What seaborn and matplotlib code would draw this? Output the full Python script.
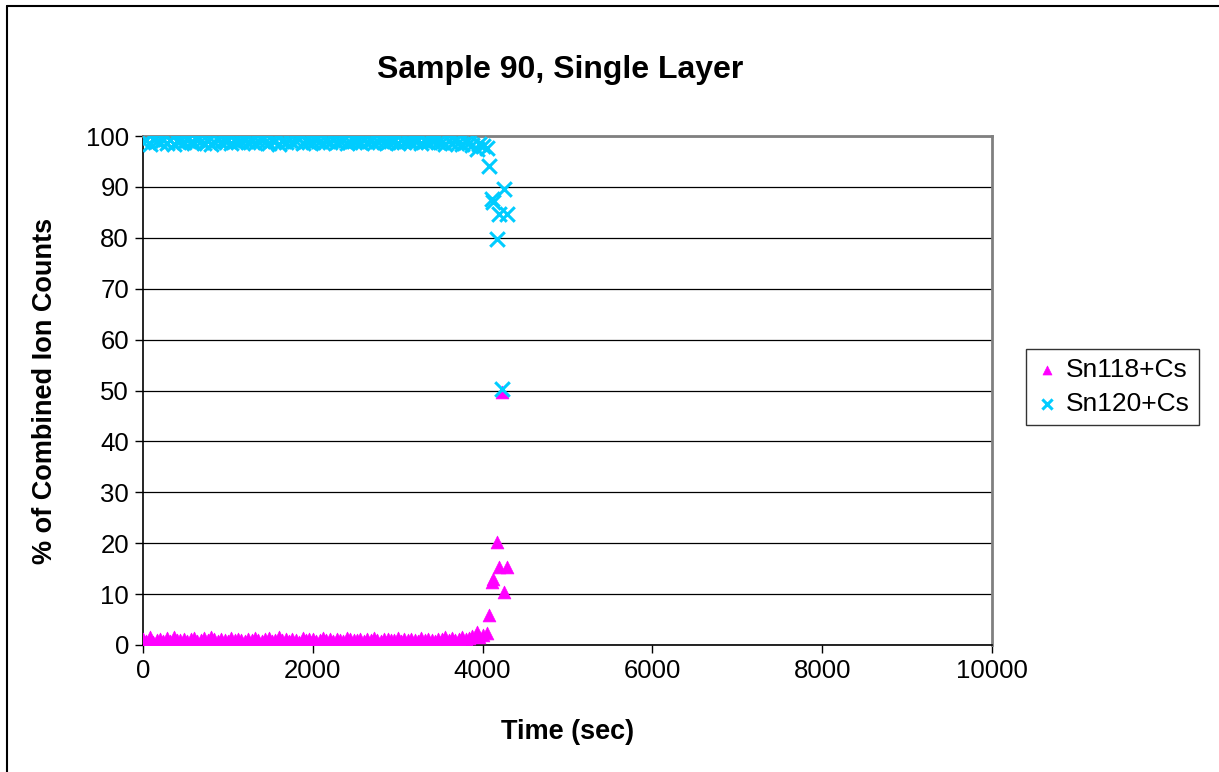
import matplotlib
matplotlib.use("Agg")
import matplotlib.pyplot as plt
from matplotlib.lines import Line2D
import seaborn as sns
import pandas as pd

# ---- data ----
time_base = [0, 40, 80, 120, 160, 200, 240, 280, 320, 360,
             400, 440, 480, 520, 560, 600, 640, 680, 720, 760,
             800, 840, 880, 920, 960, 1000, 1040, 1080, 1120, 1160,
             1200, 1240, 1280, 1320, 1360, 1400, 1440, 1480, 1520, 1560,
             1600, 1640, 1680, 1720, 1760, 1800, 1840, 1880, 1920, 1960,
             2000, 2040, 2080, 2120, 2160, 2200, 2240, 2280, 2320, 2360,
             2400, 2440, 2480, 2520, 2560, 2600, 2640, 2680, 2720, 2760,
             2800, 2840, 2880, 2920, 2960, 3000, 3040, 3080, 3120, 3160,
             3200, 3240, 3280, 3320, 3360, 3400, 3440, 3480, 3520, 3560,
             3600, 3640, 3680, 3720, 3760, 3800, 3840, 3880]
time_tail = [3930, 3960, 4010, 4048, 4079, 4107, 4126, 4166, 4197, 4225, 4252, 4284]

sn118_base = [1.2, 0.8, 1.5, 0.6, 0.9, 1.1, 0.7, 1.3, 0.8, 1.6,
              1.0, 0.9, 1.2, 0.7, 1.1, 1.4, 0.8, 1.0, 1.3, 0.9,
              1.5, 1.1, 0.8, 1.2, 1.0, 0.7, 1.3, 0.9, 1.1, 1.0,
              0.8, 1.2, 0.9, 1.4, 1.0, 0.7, 1.1, 1.3, 0.8, 1.0,
              1.6, 0.9, 1.2, 0.8, 1.1, 1.0, 0.6, 1.3, 0.9, 1.1,
              1.2, 0.8, 1.0, 1.4, 0.9, 1.1, 0.7, 1.2, 1.0, 0.8,
              1.3, 1.1, 0.9, 1.0, 1.2, 0.7, 1.1, 0.9, 1.3, 1.0,
              0.8, 1.2, 1.1, 0.9, 1.0, 1.4, 0.8, 1.1, 0.9, 1.2,
              1.0, 0.7, 1.3, 0.9, 1.1, 1.0, 0.8, 1.2, 1.1, 1.5,
              0.9, 1.3, 1.0, 1.2, 1.6, 1.1, 1.4, 1.8]
sn118_tail = [2.6, 1.5, 2.0, 2.3, 5.8, 12.4, 12.9, 20.3, 15.4, 49.8, 10.5, 15.3]

sn120_base = [98.8, 99.2, 98.5, 99.4, 99.1, 98.9, 99.3, 98.7, 99.2, 98.4,
              99.0, 99.1, 98.8, 99.3, 98.9, 98.6, 99.2, 99.0, 98.7, 99.1,
              98.5, 98.9, 99.2, 98.8, 99.0, 99.3, 98.7, 99.1, 98.9, 99.0,
              99.2, 98.8, 99.1, 98.6, 99.0, 99.3, 98.9, 98.7, 99.2, 99.0,
              98.4, 99.1, 98.8, 99.2, 98.9, 99.0, 99.4, 98.7, 99.1, 98.9,
              98.8, 99.2, 99.0, 98.6, 99.1, 98.9, 99.3, 98.8, 99.0, 99.2,
              98.7, 98.9, 99.1, 99.0, 98.8, 99.3, 98.9, 99.1, 98.7, 99.0,
              99.2, 98.8, 98.9, 99.1, 99.0, 98.6, 99.2, 98.9, 99.1, 98.8,
              99.0, 99.3, 98.7, 99.1, 98.9, 99.0, 99.2, 98.8, 98.9, 98.5,
              99.1, 98.7, 99.0, 98.8, 98.4, 98.9, 98.6, 98.2]
sn120_tail = [97.4, 98.5, 98.0, 97.7, 94.2, 87.6, 87.1, 79.7, 84.6, 50.2, 89.5, 84.7]

series_names = ["Sn118+Cs", "Sn120+Cs"]
x_ticks = [0, 2000, 4000, 6000, 8000, 10000]
y_ticks = [0, 10, 20, 30, 40, 50, 60, 70, 80, 90, 100]

df118 = pd.DataFrame({"time": time_base + time_tail, "pct": sn118_base + sn118_tail})
df120 = pd.DataFrame({"time": time_base + time_tail, "pct": sn120_base + sn120_tail})

# ---- plotting ----
sns.set_style("white")
plt.rcParams["font.family"] = ["Liberation Sans", "DejaVu Sans"]
plt.rcParams["text.color"] = "black"
plt.rcParams["axes.labelcolor"] = "black"
plt.rcParams["xtick.color"] = "black"
plt.rcParams["ytick.color"] = "black"

W, H = 1219, 772
fig = plt.figure(figsize=(W / 100, H / 100), dpi=100)
ax = fig.add_axes([143 / W, 1 - 645 / H, (992 - 143) / W, (645 - 136) / H])

sns.scatterplot(data=df118, x="time", y="pct", ax=ax, marker="^", color="#FF00FF",
                s=85, edgecolor="#FF00FF", linewidth=0.5, zorder=3, label=series_names[0])
sns.scatterplot(data=df120, x="time", y="pct", ax=ax, marker="x", color="#00CCFF",
                s=110, linewidth=2.2, zorder=4, label=series_names[1])

ax.set_xlim(0, 10000)
ax.set_ylim(0, 100)
ax.set_xticks(x_ticks)
ax.set_yticks(y_ticks)
ax.set_xticklabels([str(v) for v in x_ticks])
ax.set_yticklabels([str(v) for v in y_ticks])
ax.tick_params(axis="both", labelsize=18.5, direction="out", length=6, width=1,
               color="black", labelcolor="black", left=True, bottom=True, pad=4)

ax.grid(axis="y", color="black", linewidth=0.9)
ax.grid(axis="x", visible=False)
ax.set_axisbelow(True)

for side in ["top", "right"]:
    ax.spines[side].set_visible(True)
    ax.spines[side].set_color("#808080")
    ax.spines[side].set_linewidth(2)
for side in ["left", "bottom"]:
    ax.spines[side].set_color("black")
    ax.spines[side].set_linewidth(1.2)

ax.set_xlabel("Time (sec)", fontsize=19.5, fontweight="bold", color="black")
ax.set_ylabel("% of Combined Ion Counts", fontsize=19.5, fontweight="bold", color="black")
ax.xaxis.set_label_coords(0.5, (645 - 732) / 509)
ax.yaxis.set_label_coords((45 - 143) / 849, 0.5)
ax.xaxis.label.set_va("center")
ax.yaxis.label.set_va("center")
fig.text(560 / W, 1 - 70 / H, "Sample 90, Single Layer", fontsize=23, fontweight="bold",
         ha="center", va="center", color="black")

handles, labels = ax.get_legend_handles_labels()
ax.legend_.remove()
leg = fig.legend(handles, labels, loc="center left", bbox_to_anchor=(1026 / W, 1 - 387 / H),
                 fontsize=19, frameon=True, fancybox=False, edgecolor="black",
                 handletextpad=0.25, handlelength=0.9, borderpad=0.35, labelspacing=0.35,
                 markerscale=0.7, borderaxespad=0.0)
leg.get_frame().set_linewidth(1.0)
for t in leg.get_texts():
    t.set_color("black")

# outer chart border (top and left visible in reference)
fig.add_artist(Line2D([7 / W, 1], [1 - 6 / H, 1 - 6 / H], color="black", linewidth=1.5,
                      transform=fig.transFigure))
fig.add_artist(Line2D([7 / W, 7 / W], [0, 1 - 6 / H], color="black", linewidth=1.5,
                      transform=fig.transFigure))

fig.savefig("out.png", dpi=100, facecolor="white")
